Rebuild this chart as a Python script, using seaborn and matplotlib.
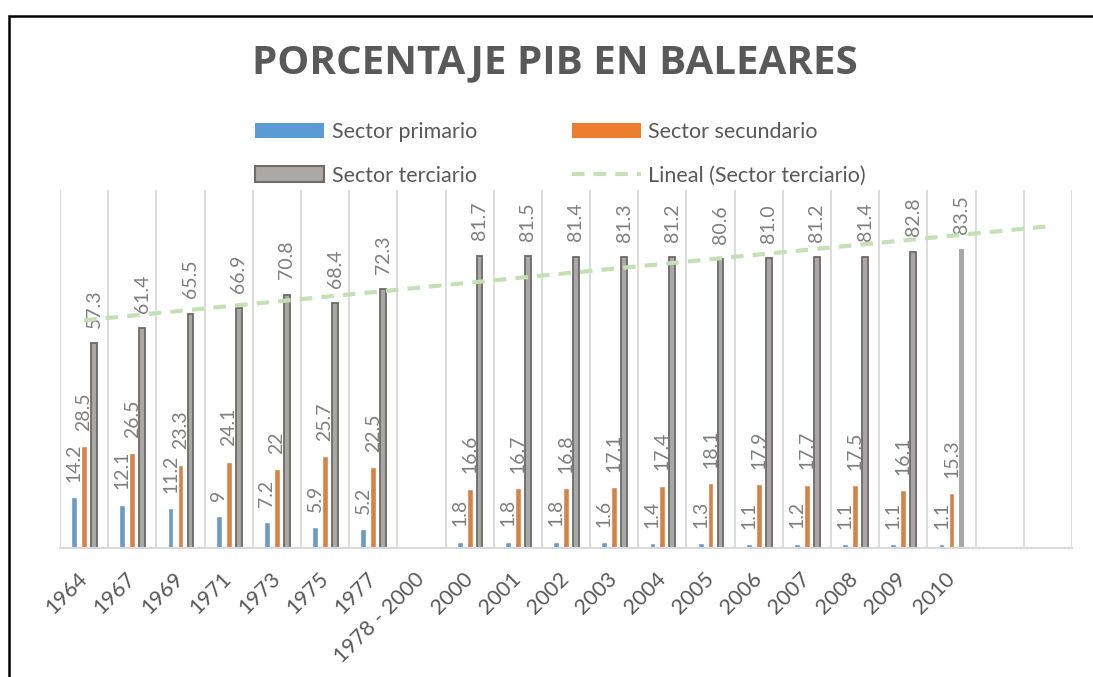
"""
Porcentaje del PIB por sectores en Baleares (barras + tendencia lineal)
"""
import numpy as np
import pandas as pd
import seaborn as sns
import matplotlib.pyplot as plt
from matplotlib.patches import Patch, Rectangle
from matplotlib.lines import Line2D

# Datos
anios = ['1964', '1967', '1969', '1971', '1973', '1975', '1977', '1978 - 2000',
         '2000', '2001', '2002', '2003', '2004', '2005', '2006', '2007',
         '2008', '2009', '2010']
primario = [14.2, 12.1, 11.2, 9, 7.2, 5.9, 5.2, None,
            1.8, 1.8, 1.8, 1.6, 1.4, 1.3, 1.1, 1.2, 1.1, 1.1, 1.1]
secundario = [28.5, 26.5, 23.3, 24.1, 22, 25.7, 22.5, None,
              16.6, 16.7, 16.8, 17.1, 17.4, 18.1, 17.9, 17.7, 17.5, 16.1, 15.3]
terciario = [57.3, 61.4, 65.5, 66.9, 70.8, 68.4, 72.3, None,
             81.7, 81.5, 81.4, 81.3, 81.2, 80.6, 81.0, 81.2, 81.4, 82.8, 83.5]
sectores = ['Sector primario', 'Sector secundario', 'Sector terciario']
colores = ['#5B9BD5', '#ED7D31', '#ABA8A6']
periodos_extra = 2  # la tendencia se prolonga 2 periodos

GRIS_TEXTO = '#595959'
GRIS_ETIQ = '#7F7F7F'

filas = []
for sector, serie in zip(sectores, [primario, secundario, terciario]):
    for anio, v in zip(anios, serie):
        filas.append({'anio': anio, 'sector': sector,
                      'valor': np.nan if v is None else v})
df = pd.DataFrame(filas)

sns.set_style('white')
plt.rcParams['font.family'] = ['Lato', 'DejaVu Sans']

fig = plt.figure(figsize=(10.93, 6.77), dpi=100)
ax = fig.add_axes([60 / 1093, 1 - 548 / 677, (1072 - 60) / 1093, (548 - 190) / 677])

sns.barplot(data=df, x='anio', y='valor', hue='sector', order=anios,
            hue_order=sectores, palette=colores, width=0.62, gap=0.42,
            errorbar=None, legend=False, ax=ax, zorder=2)

# Borde oscuro en el sector terciario (salvo la última barra)
barras_terc = list(ax.containers[2])
for b in barras_terc[:-1]:
    b.set_edgecolor('#6E6A68')
    b.set_linewidth(1.3)
barras_terc[-1].set_linewidth(0)

# Etiquetas de datos
for cont, serie in zip(ax.containers, [primario, secundario, terciario]):
    etiquetas = [str(v) for v in serie if v is not None]
    ax.bar_label(cont, labels=etiquetas, rotation=90, padding=11,
                 fontsize=14, color=GRIS_ETIQ)

# Línea de tendencia lineal
x_idx = np.arange(len(anios))
y_terc = np.array([np.nan if v is None else v for v in terciario])
ok = ~np.isnan(y_terc)
pend, orig = np.polyfit(x_idx[ok], y_terc[ok], 1)
x_tend = np.array([0, len(anios) - 1 + periodos_extra])
ax.plot(x_tend, pend * x_tend + orig, ls=(0, (3, 2.2)), lw=3,
        color='#C5E0B4', zorder=3)

# Ejes
n_total = len(anios) + periodos_extra
ax.set_xlim(-0.5, n_total - 0.5)
ax.set_ylim(0, 100)
ax.set_xticks(range(len(anios)))
ax.set_xticklabels(anios, rotation=45, ha='right', va='center',
                   rotation_mode='anchor', fontsize=15.5, color=GRIS_TEXTO)
ax.tick_params(axis='x', length=0, pad=20)
ax.set_xticks(np.arange(-0.5, n_total), minor=True)
ax.tick_params(axis='x', which='minor', length=0)
ax.grid(axis='x', which='minor', color='#D9D9D9', lw=1.3, zorder=1)
ax.set_yticks([])
ax.set_xlabel('')
ax.set_ylabel('')
for lado in ['top', 'right', 'left']:
    ax.spines[lado].set_visible(False)
ax.spines['bottom'].set_color('#D9D9D9')
ax.spines['bottom'].set_linewidth(1.5)
ax.set_axisbelow(True)

# Título
fig.text(0.508, 1 - 63 / 677, 'PORCENTAJE PIB EN BALEARES', ha='center', va='center',
         fontsize=29, fontweight='bold', color=GRIS_TEXTO, family='Open Sans')

# Leyenda (orden por columnas)
manejadores = [
    Patch(facecolor=colores[0], edgecolor='none', label=sectores[0]),
    Patch(facecolor=colores[2], edgecolor='#6E6A68', lw=1.5, label=sectores[2]),
    Patch(facecolor=colores[1], edgecolor='none', label=sectores[1]),
    Line2D([], [], ls=(0, (3, 2.2)), lw=3, color='#C5E0B4',
           label='Lineal (Sector terciario)'),
]
fig.legend(handles=manejadores, ncol=2, loc='center', bbox_to_anchor=(0.513, 0.773),
           frameon=False, fontsize=15.5, labelcolor=GRIS_TEXTO, handlelength=3.2,
           handleheight=0.7, handletextpad=0.35, columnspacing=4.4, labelspacing=1.1)

# Marco del gráfico (recortado a la derecha y abajo)
fig.add_artist(Rectangle((9 / 1093, -0.1), 1.2, 1.1 - 16 / 677, transform=fig.transFigure,
                         fill=False, edgecolor='black', lw=1.8))

plt.savefig('out.png', dpi=100)
